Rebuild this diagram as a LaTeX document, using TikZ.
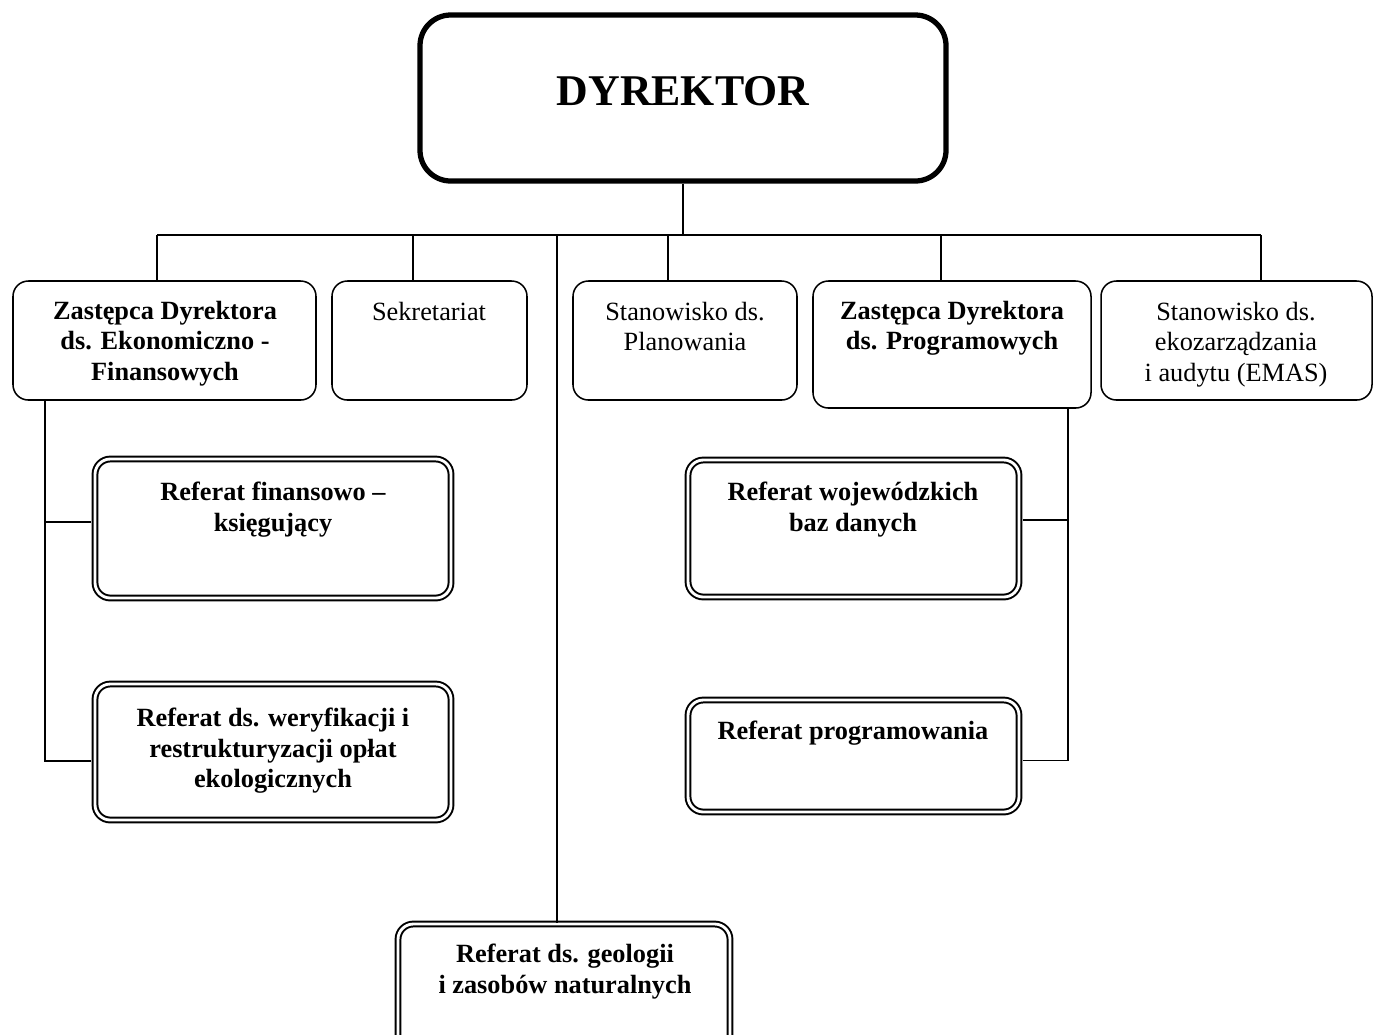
\documentclass[tikz,border=0pt]{standalone}
\usepackage{fontspec}
\setmainfont{Liberation Serif}
\usetikzlibrary{fit}
\tikzset{
  unit/.style={draw, line width=0.7pt, rounded corners=7pt, inner sep=0pt},
  referat/.style={draw, double, double distance=1.3pt, line width=0.9pt, rounded corners=7pt, inner sep=0pt},
  boss/.style={draw, line width=2.4pt, rounded corners=14pt, inner sep=0pt},
  txt/.style={align=center, anchor=north, inner sep=0pt, font=\fontsize{12}{13.8}\selectfont},
  btxt/.style={txt, font=\fontsize{12}{13.8}\selectfont\bfseries},
  link/.style={line width=0.7pt}
}
\begin{document}
\begin{tikzpicture}[x=0.456pt, y=-0.456pt]
\useasboundingbox (0,0) rectangle (1374,1034);
\clip (0,0) rectangle (1374,1034);

\node[boss, fit={(420,15) (946,181)}] (dyr) {};
\node[txt, font=\fontsize{20}{24}\selectfont\bfseries] (dyrT) at (683,76) {DYREKTOR};

\node[unit, fit={(13,281) (316,400)}] (zef) {};
\node[unit, fit={(332,281) (527,400)}] (sek) {};
\node[unit, fit={(573,281) (797,400)}] (plan) {};
\node[unit, fit={(813,281) (1091,408)}] (zprog) {};
\node[unit, fit={(1101,281) (1372,400)}] (emas) {};

\node[btxt] (zefT) at (165,301) {Zastępca Dyrektora\\ds. Ekonomiczno -\\Finansowych};
\node[txt] (sekT) at (429,302) {Sekretariat};
\node[txt] (planT) at (685,302) {Stanowisko ds.\\Planowania};
\node[btxt] (zprogT) at (952,301) {Zastępca Dyrektora\\ds. Programowych};
\node[txt] (emasT) at (1236,302) {Stanowisko ds.\\ekozarządzania\\i audytu (EMAS)};

\node[referat, fit={(95,459) (451,598)}] (fin) {};
\node[referat, fit={(95,684) (451,820)}] (wer) {};
\node[referat, fit={(688,460) (1019,597)}] (woj) {};
\node[referat, fit={(688,700) (1019,812)}] (prog) {};
\node[referat, fit={(398,924) (730,1080)}] (geo) {};

\node[btxt] (finT) at (273,482) {Referat finansowo –\\księgujący};
\node[btxt] (werT) at (273,708) {Referat ds. weryfikacji i\\restrukturyzacji opłat\\ekologicznych};
\node[btxt] (wojT) at (853,482) {Referat wojewódzkich\\baz danych};
\node[btxt] (progT) at (853,721) {Referat programowania};
\node[btxt] (geoT) at (565,944) {Referat ds. geologii\\i zasobów naturalnych};

\coordinate (bus) at (683,235);
\draw[link] (dyr.south) -- (bus);
\draw[link] (157,235) -- (1261,235);
\foreach \x/\n in {157/zef, 413/sek, 668/plan, 941/zprog, 1261/emas}{
  \coordinate (d) at (\x,235);
  \draw[link] (d) -- (d |- \n.north);
}
\coordinate (mid) at (557,235);
\draw[link] (mid) -- (mid |- geo.north);

\coordinate (l) at (45,0);
\coordinate (finW) at ([yshift=3pt]fin.west);
\coordinate (werW) at ([yshift=-4pt]wer.west);
\draw[link, shorten >=1.5pt] (zef.south -| l) |- (werW);
\draw[link, shorten >=1.5pt] (l |- finW) -- (finW);
\coordinate (r) at (1068,0);
\coordinate (wojE) at ([yshift=4pt]woj.east);
\coordinate (progE) at ([yshift=-2pt]prog.east);
\draw[link, shorten >=1.5pt] (zprog.south -| r) |- (progE);
\draw[link, shorten >=1.5pt] (r |- wojE) -- (wojE);
\end{tikzpicture}
\end{document}
